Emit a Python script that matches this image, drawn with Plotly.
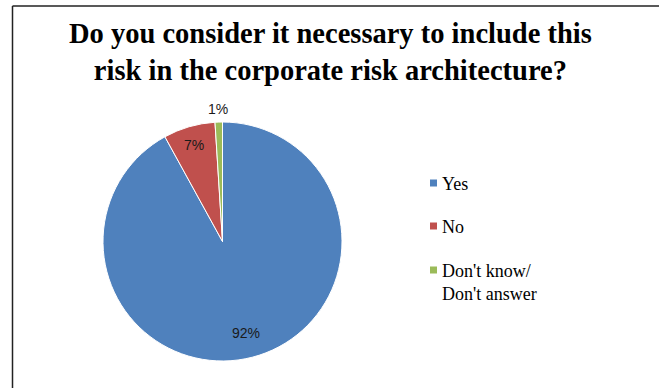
import math
import plotly.graph_objects as go

labels = ["Yes", "No", "Don't know/<br>Don't answer"]
values = [92, 7, 1]
colors = ["#4F81BD", "#C0504D", "#9BBB59"]
label_radius = [0.79, 0.84, 1.11]  # relative distance of percent labels from centre

W, H = 659, 388
cx, cy, r = 222.5, 241.5, 119.5

fig = go.Figure()
fig.add_trace(go.Pie(
    labels=labels,
    values=values,
    sort=False,
    direction="clockwise",
    rotation=0,
    marker=dict(colors=colors, line=dict(color="white", width=1)),
    textinfo="none",
    showlegend=False,
    domain=dict(x=[(cx - r) / W, (cx + r) / W], y=[1 - (cy + r) / H, 1 - (cy - r) / H]),
    hoverinfo="label+percent",
))

shapes = [
    dict(type="line", xref="paper", yref="paper", x0=12.5 / W, x1=12.5 / W, y0=-0.05, y1=1 - 6 / H,
         line=dict(color="#222222", width=1.5)),
    dict(type="line", xref="paper", yref="paper", x0=12.5 / W, x1=1.05, y0=1 - 6 / H, y1=1 - 6 / H,
         line=dict(color="#222222", width=1.5)),
]
annotations = []

# percent labels placed at slice mid-angles
total = sum(values)
cum = 0
for v, k in zip(values, label_radius):
    mid = (cum + v / 2) / total * 2 * math.pi
    cum += v
    px = cx + k * r * math.sin(mid)
    py = cy - k * r * math.cos(mid)
    annotations.append(dict(text=f"{round(100 * v / total)}%", xref="paper", yref="paper",
                            x=px / W, y=1 - py / H, xanchor="center", yanchor="middle",
                            showarrow=False,
                            font=dict(family="Liberation Sans", size=14, color="#1a1a1a")))

# legend
leg_y = [183, 226, 270]
sq = 7
for lab, col, yy in zip(labels, colors, leg_y):
    shapes.append(dict(type="rect", xref="paper", yref="paper",
                       x0=430 / W, x1=(430 + sq) / W,
                       y0=1 - (yy + sq / 2) / H, y1=1 - (yy - sq / 2) / H,
                       fillcolor=col, line=dict(width=0)))
    annotations.append(dict(text=lab, xref="paper", yref="paper",
                            x=440 / W, y=1 - (yy - 11) / H, xanchor="left", yanchor="top",
                            align="left", showarrow=False,
                            font=dict(family="Liberation Serif", size=18, color="#000000")))

annotations.append(dict(
    text="<b>Do you consider it necessary to include this<br>risk in the corporate risk architecture?</b>",
    xref="paper", yref="paper", x=330 / W, y=1 - 16 / H, xanchor="center", yanchor="top",
    align="center", showarrow=False,
    font=dict(family="Liberation Serif", size=28.5, color="#000000")))

fig.update_layout(
    width=W, height=H,
    margin=dict(l=0, r=0, t=0, b=0),
    paper_bgcolor="white",
    plot_bgcolor="white",
    shapes=shapes,
    annotations=annotations,
)

fig.write_html("out.html")
